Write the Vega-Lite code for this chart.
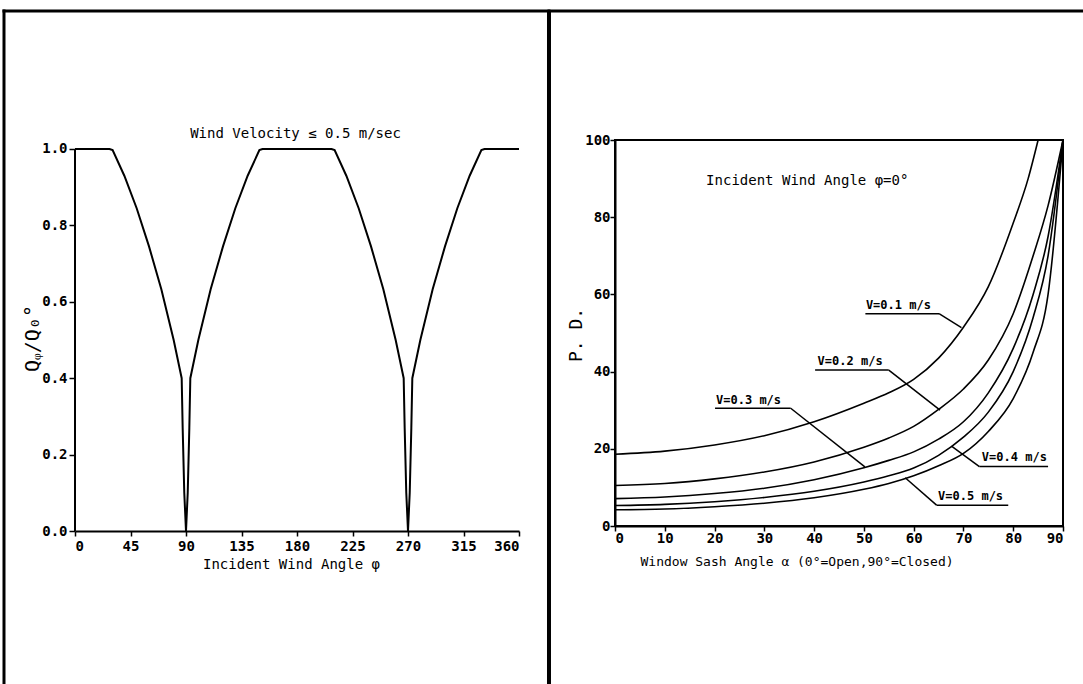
{
  "$schema": "https://vega.github.io/schema/vega-lite/v6.json",
  "padding": {"left": 1, "top": 7, "right": 0, "bottom": 0},
  "spacing": -7,
  "background": "white",
  "config": {
    "font": "DejaVu Sans Mono",
    "axis": {
      "domainColor": "black", "tickColor": "black", "labelColor": "black", "titleColor": "black",
      "grid": false, "labelFont": "DejaVu Sans Mono", "labelFontWeight": "bold", "labelFontSize": 14,
      "titleFont": "DejaVu Sans Mono", "titleFontWeight": "normal", "domainWidth": 2, "tickWidth": 1.5
    }
  },
  "datasets": {
    "ratio": [
      {"phi": 0, "q": 1.0}, {"phi": 28, "q": 1.0}, {"phi": 30.5, "q": 0.997}, {"phi": 40, "q": 0.93},
      {"phi": 50, "q": 0.845}, {"phi": 60, "q": 0.745}, {"phi": 70, "q": 0.633}, {"phi": 80, "q": 0.5},
      {"phi": 86.5, "q": 0.4}, {"phi": 87.3, "q": 0.27}, {"phi": 88.6, "q": 0.1}, {"phi": 90, "q": 0.0},
      {"phi": 91.4, "q": 0.1}, {"phi": 92.7, "q": 0.27}, {"phi": 93.5, "q": 0.4}, {"phi": 100, "q": 0.5},
      {"phi": 110, "q": 0.633}, {"phi": 120, "q": 0.745}, {"phi": 130, "q": 0.845}, {"phi": 140, "q": 0.93},
      {"phi": 149.5, "q": 0.997}, {"phi": 152, "q": 1.0}, {"phi": 208, "q": 1.0}, {"phi": 210.5, "q": 0.997},
      {"phi": 220, "q": 0.93}, {"phi": 230, "q": 0.845}, {"phi": 240, "q": 0.745}, {"phi": 250, "q": 0.633},
      {"phi": 260, "q": 0.5}, {"phi": 266.5, "q": 0.4}, {"phi": 267.3, "q": 0.27}, {"phi": 268.6, "q": 0.1},
      {"phi": 270, "q": 0.0}, {"phi": 271.4, "q": 0.1}, {"phi": 272.7, "q": 0.27}, {"phi": 273.5, "q": 0.4},
      {"phi": 280, "q": 0.5}, {"phi": 290, "q": 0.633}, {"phi": 300, "q": 0.745}, {"phi": 310, "q": 0.845},
      {"phi": 320, "q": 0.93}, {"phi": 329.5, "q": 0.997}, {"phi": 332, "q": 1.0}, {"phi": 360, "q": 1.0}
    ],
    "frameL": [
      {"phi": -57.57, "phi2": -57.57, "q": 1.3613, "q2": -0.445},
      {"phi": -57.57, "phi2": 384.3, "q": 1.3613, "q2": 1.3613}
    ],
    "axisL": [
      {"phi": 0, "phi2": 0, "q": 0, "q2": 1.0}
    ],
    "titleL": [
      {"phi": 178.8, "q": 1.039, "t": "Wind  Velocity  ≤  0.5  m/sec"}
    ],
    "pd": [
      {"v": "0.1", "a": 0, "pd": 18.6}, {"v": "0.1", "a": 10, "pd": 19.4}, {"v": "0.1", "a": 20, "pd": 21.0},
      {"v": "0.1", "a": 30, "pd": 23.4}, {"v": "0.1", "a": 40, "pd": 27.0}, {"v": "0.1", "a": 50, "pd": 31.8},
      {"v": "0.1", "a": 55, "pd": 34.5}, {"v": "0.1", "a": 60, "pd": 38.0}, {"v": "0.1", "a": 65, "pd": 43.5},
      {"v": "0.1", "a": 70, "pd": 51.5}, {"v": "0.1", "a": 75, "pd": 62.0}, {"v": "0.1", "a": 80, "pd": 78.5},
      {"v": "0.1", "a": 83, "pd": 90.0}, {"v": "0.1", "a": 85, "pd": 100.0},
      {"v": "0.2", "a": 0, "pd": 10.5}, {"v": "0.2", "a": 10, "pd": 11.0}, {"v": "0.2", "a": 20, "pd": 12.2},
      {"v": "0.2", "a": 30, "pd": 14.0}, {"v": "0.2", "a": 40, "pd": 16.6}, {"v": "0.2", "a": 50, "pd": 20.4},
      {"v": "0.2", "a": 55, "pd": 22.8}, {"v": "0.2", "a": 60, "pd": 25.8}, {"v": "0.2", "a": 65, "pd": 30.2},
      {"v": "0.2", "a": 70, "pd": 35.5}, {"v": "0.2", "a": 75, "pd": 43.0}, {"v": "0.2", "a": 80, "pd": 55.0},
      {"v": "0.2", "a": 84, "pd": 70.0}, {"v": "0.2", "a": 87, "pd": 83.0}, {"v": "0.2", "a": 90, "pd": 100.0},
      {"v": "0.3", "a": 0, "pd": 7.1}, {"v": "0.3", "a": 10, "pd": 7.5}, {"v": "0.3", "a": 20, "pd": 8.4},
      {"v": "0.3", "a": 30, "pd": 9.8}, {"v": "0.3", "a": 40, "pd": 12.0}, {"v": "0.3", "a": 50, "pd": 15.1},
      {"v": "0.3", "a": 55, "pd": 17.0}, {"v": "0.3", "a": 60, "pd": 19.2}, {"v": "0.3", "a": 65, "pd": 22.5},
      {"v": "0.3", "a": 70, "pd": 27.0}, {"v": "0.3", "a": 75, "pd": 34.5}, {"v": "0.3", "a": 80, "pd": 46.0},
      {"v": "0.3", "a": 84, "pd": 60.0}, {"v": "0.3", "a": 87, "pd": 75.0}, {"v": "0.3", "a": 90, "pd": 100.0},
      {"v": "0.4", "a": 0, "pd": 5.3}, {"v": "0.4", "a": 10, "pd": 5.6}, {"v": "0.4", "a": 20, "pd": 6.3},
      {"v": "0.4", "a": 30, "pd": 7.4}, {"v": "0.4", "a": 40, "pd": 9.0}, {"v": "0.4", "a": 50, "pd": 11.4},
      {"v": "0.4", "a": 55, "pd": 13.0}, {"v": "0.4", "a": 60, "pd": 15.0}, {"v": "0.4", "a": 65, "pd": 18.3},
      {"v": "0.4", "a": 70, "pd": 23.0}, {"v": "0.4", "a": 75, "pd": 29.5}, {"v": "0.4", "a": 80, "pd": 40.0},
      {"v": "0.4", "a": 84, "pd": 54.0}, {"v": "0.4", "a": 87, "pd": 70.0}, {"v": "0.4", "a": 90, "pd": 100.0},
      {"v": "0.5", "a": 0, "pd": 4.2}, {"v": "0.5", "a": 10, "pd": 4.4}, {"v": "0.5", "a": 20, "pd": 5.0},
      {"v": "0.5", "a": 30, "pd": 5.9}, {"v": "0.5", "a": 40, "pd": 7.3}, {"v": "0.5", "a": 50, "pd": 9.5},
      {"v": "0.5", "a": 55, "pd": 11.0}, {"v": "0.5", "a": 60, "pd": 13.0}, {"v": "0.5", "a": 65, "pd": 15.6},
      {"v": "0.5", "a": 70, "pd": 18.8}, {"v": "0.5", "a": 75, "pd": 24.5}, {"v": "0.5", "a": 80, "pd": 33.0},
      {"v": "0.5", "a": 84, "pd": 45.0}, {"v": "0.5", "a": 87, "pd": 60.0}, {"v": "0.5", "a": 90, "pd": 100.0}
    ],
    "frameR": [
      {"a": -13.26, "a2": -13.26, "pd": 133.16, "pd2": -45.34, "w": "divider"},
      {"a": -13.26, "a2": 96.4, "pd": 133.42, "pd2": 133.42, "w": "top"}
    ],
    "leaders": [
      {"a": 50.3, "a2": 65.1, "pd": 55.0, "pd2": 55.0},
      {"a": 65.1, "a2": 69.6, "pd": 55.0, "pd2": 51.4},
      {"a": 40.2, "a2": 55.0, "pd": 40.4, "pd2": 40.4},
      {"a": 55.0, "a2": 65.3, "pd": 40.4, "pd2": 30.0},
      {"a": 20.1, "a2": 35.3, "pd": 30.5, "pd2": 30.5},
      {"a": 35.3, "a2": 50.2, "pd": 30.5, "pd2": 15.3},
      {"a": 73.2, "a2": 87.0, "pd": 15.4, "pd2": 15.4},
      {"a": 73.2, "a2": 67.6, "pd": 15.4, "pd2": 20.7},
      {"a": 64.6, "a2": 79.0, "pd": 5.4, "pd2": 5.4},
      {"a": 64.6, "a2": 58.3, "pd": 5.4, "pd2": 12.5}
    ],
    "labelsR": [
      {"a": 50.4, "pd": 57.2, "t": "V=0.1 m/s"},
      {"a": 40.7, "pd": 42.7, "t": "V=0.2 m/s"},
      {"a": 20.3, "pd": 32.6, "t": "V=0.3 m/s"},
      {"a": 73.7, "pd": 17.9, "t": "V=0.4 m/s"},
      {"a": 64.9, "pd": 7.8, "t": "V=0.5 m/s"}
    ],
    "noteR": [
      {"a": 18.3, "pd": 89.3, "t": "Incident  Wind  Angle  φ=0°"}
    ]
  },
  "hconcat": [
    {
      "width": 444,
      "height": 391,
      "view": {"stroke": null},
      "layer": [
        {
          "data": {"name": "ratio"},
          "mark": {"type": "line", "color": "black", "strokeWidth": 2},
          "encoding": {
            "x": {
              "field": "phi", "type": "quantitative",
              "scale": {"domain": [0, 360], "nice": false, "zero": false},
              "axis": {
                "values": [0, 45, 90, 135, 180, 225, 270, 315, 360],
                "tickSize": 5, "labelPadding": 3,
                "title": "Incident  Wind  Angle  φ", "titleFontSize": 14,
                "titleX": 216, "titleY": 33, "titleAlign": "center", "titleBaseline": "middle"
              }
            },
            "y": {
              "field": "q", "type": "quantitative",
              "scale": {"domain": [0, 1.02356], "nice": false, "zero": false},
              "axis": {
                "domain": false,
                "values": [0, 0.05, 0.1, 0.15, 0.2, 0.25, 0.3, 0.35, 0.4, 0.45, 0.5, 0.55, 0.6, 0.65, 0.7, 0.75, 0.8, 0.85, 0.9, 0.95, 1.0],
                "labelExpr": "round(datum.value*100) % 10 == 0 ? format(datum.value, '.1f') : ''",
                "tickSize": {"condition": {"test": "round(datum.value*100) % 10 == 0", "value": 6}, "value": 3},
                "labelPadding": 2,
                "title": "Qᵩ/Q₀°", "titleFontSize": 20,
                "titleX": -43, "titleY": 198, "titleAlign": "center", "titleBaseline": "middle", "titleAngle": -90
              }
            }
          }
        },
        {
          "data": {"name": "axisL"},
          "mark": {"type": "rule", "color": "black", "strokeWidth": 2},
          "encoding": {
            "x": {"field": "phi", "type": "quantitative", "scale": {"domain": [0, 360], "nice": false, "zero": false}},
            "x2": {"field": "phi2"},
            "y": {"field": "q", "type": "quantitative", "scale": {"domain": [0, 1.02356], "nice": false, "zero": false}},
            "y2": {"field": "q2"}
          }
        },
        {
          "data": {"name": "frameL"},
          "mark": {"type": "rule", "color": "black", "strokeWidth": 3, "strokeCap": "square"},
          "encoding": {
            "x": {"field": "phi", "type": "quantitative", "scale": {"domain": [0, 360], "nice": false, "zero": false}},
            "x2": {"field": "phi2"},
            "y": {"field": "q", "type": "quantitative", "scale": {"domain": [0, 1.02356], "nice": false, "zero": false}},
            "y2": {"field": "q2"}
          }
        },
        {
          "data": {"name": "titleL"},
          "mark": {"type": "text", "font": "DejaVu Sans Mono", "fontSize": 14, "color": "black", "align": "center", "baseline": "middle"},
          "encoding": {
            "x": {"field": "phi", "type": "quantitative", "scale": {"domain": [0, 360], "nice": false, "zero": false}},
            "y": {"field": "q", "type": "quantitative", "scale": {"domain": [0, 1.02356], "nice": false, "zero": false}},
            "text": {"field": "t"}
          }
        }
      ]
    },
    {
      "width": 448,
      "height": 386,
      "view": {"stroke": "black", "strokeWidth": 2},
      "layer": [
        {
          "data": {"name": "pd"},
          "mark": {"type": "line", "color": "black", "strokeWidth": 1.6, "interpolate": "monotone"},
          "encoding": {
            "x": {
              "field": "a", "type": "quantitative",
              "scale": {"domain": [0, 90], "nice": false, "zero": false},
              "axis": {
                "values": [0, 5, 10, 15, 20, 25, 30, 35, 40, 45, 50, 55, 60, 65, 70, 75, 80, 85, 90],
                "labelExpr": "datum.value % 10 == 0 ? datum.label : ''",
                "tickSize": {"condition": {"test": "datum.value % 10 == 0", "value": 5}, "value": 3},
                "labelPadding": 0,
                "title": "Window Sash Angle α  (0°=Open,90°=Closed)", "titleFontSize": 13,
                "titleX": 25, "titleY": 35, "titleAlign": "left", "titleBaseline": "middle"
              }
            },
            "y": {
              "field": "pd", "type": "quantitative",
              "scale": {"domain": [0, 100], "nice": false, "zero": false},
              "axis": {
                "values": [0, 5, 10, 15, 20, 25, 30, 35, 40, 45, 50, 55, 60, 65, 70, 75, 80, 85, 90, 95, 100],
                "labelExpr": "datum.value % 10 == 0 ? datum.label : ''",
                "tickSize": {"condition": {"test": "datum.value % 10 == 0", "value": 5}, "value": 3},
                "labelPadding": 0,
                "title": "P. D.", "titleFontSize": 18,
                "titleX": -39, "titleY": 194.5, "titleAlign": "center", "titleBaseline": "middle", "titleAngle": -90
              }
            },
            "detail": {"field": "v", "type": "nominal"}
          }
        },
        {
          "data": {"name": "leaders"},
          "mark": {"type": "rule", "color": "black", "strokeWidth": 1.5},
          "encoding": {
            "x": {"field": "a", "type": "quantitative", "scale": {"domain": [0, 90], "nice": false, "zero": false}},
            "x2": {"field": "a2"},
            "y": {"field": "pd", "type": "quantitative", "scale": {"domain": [0, 100], "nice": false, "zero": false}},
            "y2": {"field": "pd2"}
          }
        },
        {
          "data": {"name": "labelsR"},
          "mark": {"type": "text", "font": "DejaVu Sans Mono", "fontSize": 12, "fontWeight": "bold", "color": "black", "align": "left", "baseline": "middle"},
          "encoding": {
            "x": {"field": "a", "type": "quantitative", "scale": {"domain": [0, 90], "nice": false, "zero": false}},
            "y": {"field": "pd", "type": "quantitative", "scale": {"domain": [0, 100], "nice": false, "zero": false}},
            "text": {"field": "t"}
          }
        },
        {
          "data": {"name": "noteR"},
          "mark": {"type": "text", "font": "DejaVu Sans Mono", "fontSize": 14, "color": "black", "align": "left", "baseline": "middle"},
          "encoding": {
            "x": {"field": "a", "type": "quantitative", "scale": {"domain": [0, 90], "nice": false, "zero": false}},
            "y": {"field": "pd", "type": "quantitative", "scale": {"domain": [0, 100], "nice": false, "zero": false}},
            "text": {"field": "t"}
          }
        },
        {
          "data": {"name": "frameR"},
          "mark": {"type": "rule", "color": "black", "strokeCap": "square"},
          "encoding": {
            "x": {"field": "a", "type": "quantitative", "scale": {"domain": [0, 90], "nice": false, "zero": false}},
            "x2": {"field": "a2"},
            "y": {"field": "pd", "type": "quantitative", "scale": {"domain": [0, 100], "nice": false, "zero": false}},
            "y2": {"field": "pd2"},
            "strokeWidth": {"condition": {"test": "datum.w == 'divider'", "value": 4}, "value": 3}
          }
        }
      ]
    }
  ]
}
